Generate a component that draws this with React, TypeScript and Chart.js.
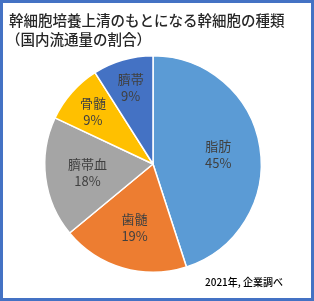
import React, { useEffect, useRef } from "react";
import { Chart, registerables } from "chart.js";

Chart.register(...registerables);

const categories = ["脂肪", "歯髄", "臍帯血", "骨髄", "臍帯"];
const shares = [45, 19, 18, 9, 9];
const colors = ["#5B9BD5", "#ED7D31", "#A5A5A5", "#FFC000", "#4472C4"];
const titleLines = ["幹細胞培養上清のもとになる幹細胞の種類", "（国内流通量の割合）"];
const sourceNote = "2021年, 企業調べ";

const FONT = '"Noto Sans CJK JP", "Noto Sans", sans-serif';

const framePlugin = {
  id: "frame",
  beforeDraw(chart: any) {
    const ctx = chart.ctx;
    ctx.save();
    ctx.fillStyle = "#ffffff";
    ctx.fillRect(0, 0, chart.width, chart.height);
    ctx.restore();
  },
  afterDraw(chart: any) {
    const ctx = chart.ctx;
    ctx.save();
    // slice labels
    const meta = chart.getDatasetMeta(0);
    const total = shares.reduce((a, b) => a + b, 0);
    ctx.fillStyle = "#404040";
    ctx.textAlign = "center";
    ctx.textBaseline = "middle";
    ctx.font = `13px ${FONT}`;
    meta.data.forEach((arc: any, i: number) => {
      const p = arc.getProps(["x", "y", "startAngle", "endAngle", "outerRadius"], true);
      const mid = (p.startAngle + p.endAngle) / 2;
      const k = shares[i] / total < 0.12 ? 0.74 : 0.61;
      const cx = p.x + Math.cos(mid) * p.outerRadius * k;
      const cy = p.y + Math.sin(mid) * p.outerRadius * k;
      ctx.fillText(categories[i], cx, cy - 8);
      ctx.fillText(`${Math.round((shares[i] / total) * 100)}%`, cx, cy + 9);
    });
    // title
    ctx.textAlign = "left";
    ctx.textBaseline = "middle";
    ctx.fillStyle = "#262626";
    ctx.font = `500 14.5px ${FONT}`;
    ctx.fillText(titleLines[0], 9, 20);
    ctx.fillText(titleLines[1], 6, 39);
    // source
    ctx.fillStyle = "#000000";
    ctx.font = `500 10px ${FONT}`;
    ctx.fillText(sourceNote, 205, 282);
    // border
    ctx.strokeStyle = "#4472C4";
    ctx.lineWidth = 3;
    ctx.strokeRect(1.5, 1.5, chart.width - 3, chart.height - 3);
    ctx.restore();
  },
};

export default function App() {
  const ref = useRef<HTMLCanvasElement | null>(null);
  useEffect(() => {
    document.body.style.margin = "0";
    const chart = new Chart(ref.current as HTMLCanvasElement, {
      type: "pie",
      data: {
        labels: categories,
        datasets: [
          {
            data: shares,
            backgroundColor: colors,
            borderColor: "#ffffff",
            borderWidth: 1.5,
          },
        ],
      },
      options: {
        responsive: false,
        animation: false,
        layout: { padding: { left: 44, right: 52, top: 55, bottom: 28 } },
        plugins: {
          legend: { display: false },
          tooltip: { enabled: false },
          title: { display: false },
        },
      },
      plugins: [framePlugin],
    });
    return () => chart.destroy();
  }, []);
  return (
    <div style={{ position: "absolute", left: 0, top: 0, width: 314, height: 301 }}>
      <canvas ref={ref} width={314} height={301} style={{ width: 314, height: 301 }} />
    </div>
  );
}
